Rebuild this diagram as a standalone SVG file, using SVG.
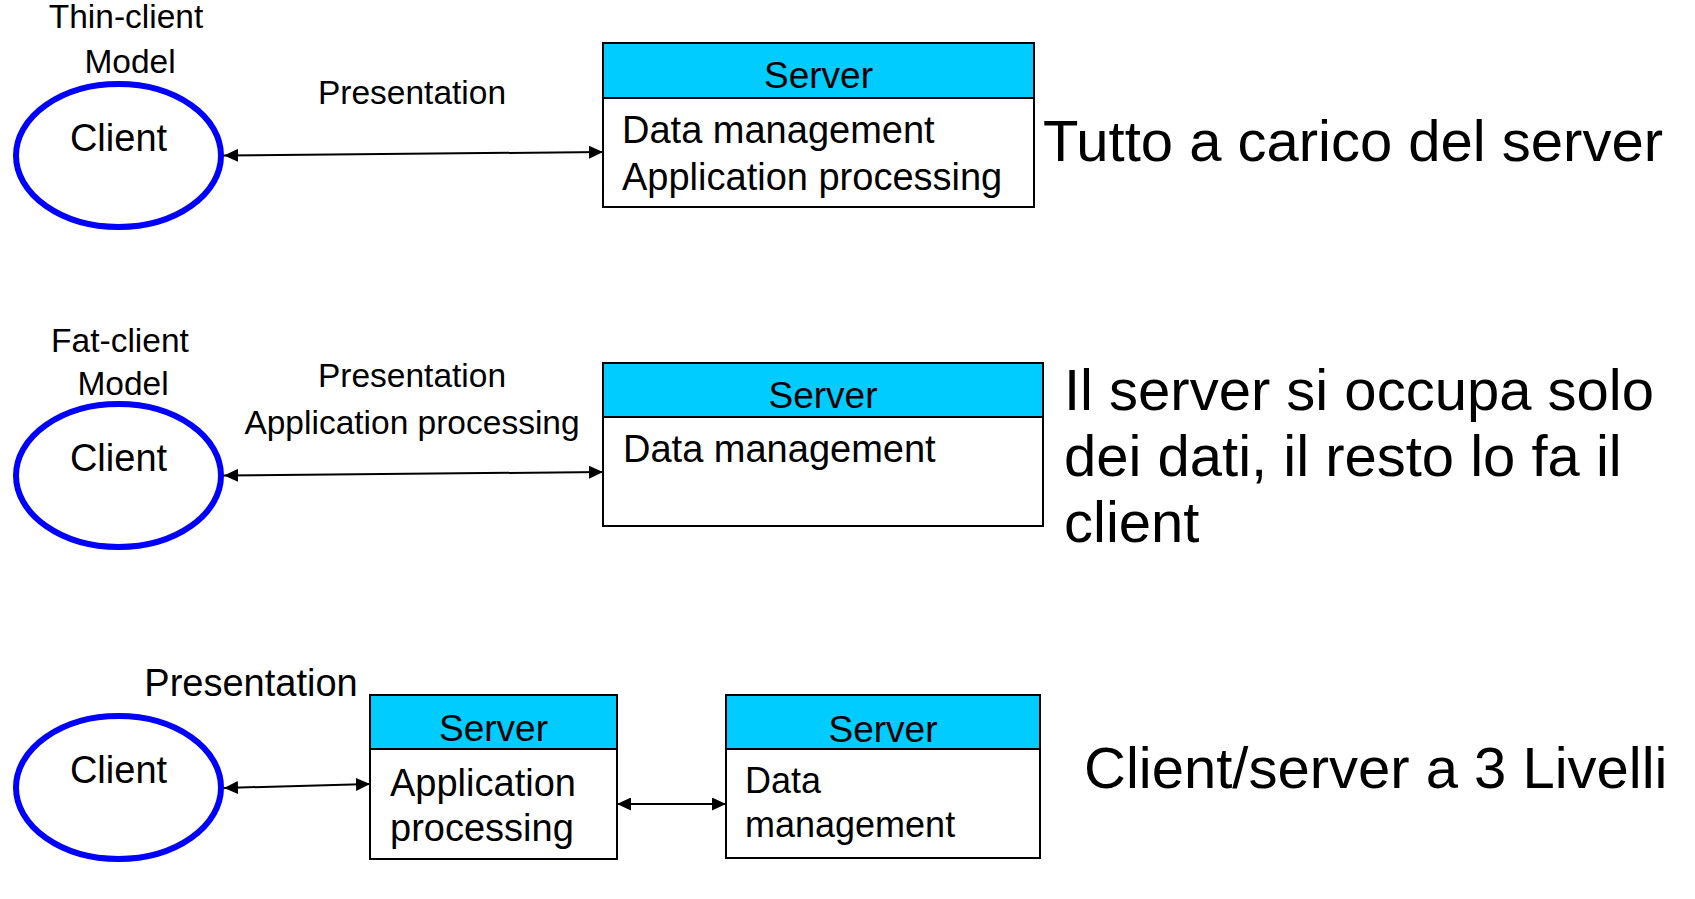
<svg xmlns="http://www.w3.org/2000/svg" width="1695" height="899" viewBox="0 0 1695 899">
<style>
text{font-family:"Liberation Sans",Arial,sans-serif;fill:#000}
.lbl{font-size:33.5px}
.mid{text-anchor:middle}
.cl{font-size:38px;text-anchor:middle}
.body{font-size:38px}
.hdr{font-size:37px;text-anchor:middle}
.big{font-size:58px}
.ell{fill:#fff;stroke:#0000ff;stroke-width:6}
.box{fill:#fff;stroke:#000;stroke-width:2}
.head{fill:#00ccff;stroke:#000;stroke-width:2}
.con{fill:none;stroke:#000;stroke-width:2;marker-start:url(#ah);marker-end:url(#ah)}
</style>
<defs>
<marker id="ah" markerUnits="userSpaceOnUse" markerWidth="15" markerHeight="13" refX="14" refY="6.5" orient="auto-start-reverse">
<path d="M0,0 L14,6.5 L0,13 z" fill="#000"/>
</marker>
</defs>
<rect width="1695" height="899" fill="#fff"/>

<g id="connectors">
<line class="con" x1="224" y1="155.5" x2="603" y2="152"/>
<line class="con" x1="224" y1="475.5" x2="603" y2="472"/>
<line class="con" x1="224" y1="788" x2="370" y2="784"/>
<line class="con" x1="617" y1="804" x2="726" y2="804"/>
</g>

<g id="labels1">
<text class="lbl mid" x="126" y="28">Thin-client</text>
<text class="lbl mid" x="130" y="73">Model</text>
<text class="lbl mid" x="412" y="104">Presentation</text>
<text class="big" x="1043" y="161">Tutto a carico del server</text>
</g>
<g id="client1">
<ellipse class="ell" cx="118.5" cy="155.5" rx="102.5" ry="71.5"/>
<text class="cl" x="118.5" y="151">Client</text>
</g>
<g id="server1">
<rect class="box" x="603" y="43" width="431" height="164"/>
<rect class="head" x="603" y="43" width="431" height="55"/>
<text class="hdr" x="818.5" y="88">Server</text>
<text class="body" x="622" y="143">Data management</text>
<text class="body" x="622" y="190">Application processing</text>
</g>

<g id="labels2">
<text class="lbl mid" x="120" y="352">Fat-client</text>
<text class="lbl mid" x="123" y="395">Model</text>
<text class="lbl mid" x="412" y="387">Presentation</text>
<text class="lbl mid" x="412" y="434">Application processing</text>
<text class="big" x="1064" y="410">Il server si occupa solo</text>
<text class="big" x="1064" y="476">dei dati, il resto lo fa il</text>
<text class="big" x="1064" y="542">client</text>
</g>
<g id="client2">
<ellipse class="ell" cx="118.5" cy="475.5" rx="102.5" ry="71.5"/>
<text class="cl" x="118.5" y="470.5">Client</text>
</g>
<g id="server2">
<rect class="box" x="603" y="363" width="440" height="163"/>
<rect class="head" x="603" y="363" width="440" height="54"/>
<text class="hdr" x="823" y="408">Server</text>
<text class="body" x="623" y="462">Data management</text>
</g>

<g id="labels3">
<text class="mid" x="251" y="696" style="font-size:38px">Presentation</text>
<text class="big" x="1084" y="788">Client/server a 3 Livelli</text>
</g>
<g id="client3">
<ellipse class="ell" cx="118.5" cy="787.5" rx="102.5" ry="71.5"/>
<text class="cl" x="118.5" y="783">Client</text>
</g>
<g id="server3a">
<rect class="box" x="370" y="695" width="247" height="164"/>
<rect class="head" x="370" y="695" width="247" height="54"/>
<text class="hdr" x="493.5" y="741">Server</text>
<text class="body" x="390" y="796">Application</text>
<text class="body" x="390" y="841">processing</text>
</g>
<g id="server3b">
<rect class="box" x="726" y="695" width="314" height="163"/>
<rect class="head" x="726" y="695" width="314" height="54"/>
<text class="hdr" x="883" y="742">Server</text>
<text x="745" y="793" style="font-size:36px">Data</text>
<text x="745" y="837" style="font-size:36px">management</text>
</g>
</svg>
